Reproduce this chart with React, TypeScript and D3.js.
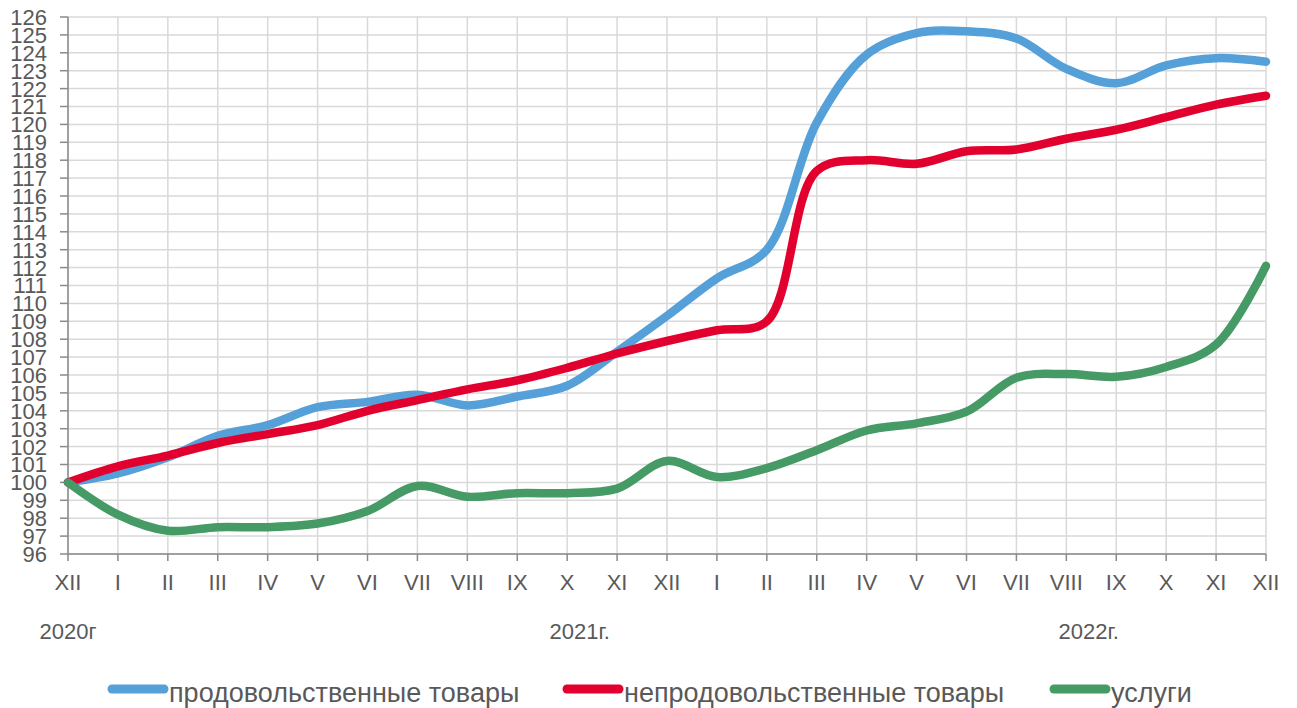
import React from "react";
import * as d3 from "d3";

const months = ["XII", "I", "II", "III", "IV", "V", "VI", "VII", "VIII", "IX", "X", "XI", "XII",
  "I", "II", "III", "IV", "V", "VI", "VII", "VIII", "IX", "X", "XI", "XII"];

const food = [100, 100.5, 101.4, 102.6, 103.2, 104.2, 104.5, 104.9, 104.3, 104.8, 105.4, 107.3, 109.3,
  111.4, 113.0, 120.1, 123.9, 125.1, 125.2, 124.8, 123.1, 122.3, 123.3, 123.7, 123.5];
const nonfood = [100, 100.9, 101.5, 102.2, 102.7, 103.2, 104.0, 104.6, 105.2, 105.7, 106.4, 107.2, 107.9,
  108.5, 109.0, 117.4, 118.0, 117.8, 118.5, 118.6, 119.2, 119.7, 120.4, 121.1, 121.6];
const services = [100, 98.2, 97.3, 97.5, 97.5, 97.7, 98.4, 99.8, 99.2, 99.4, 99.4, 99.65, 101.2,
  100.3, 100.8, 101.8, 102.9, 103.3, 103.95, 105.85, 106.05, 105.9, 106.45, 107.7, 112.1];

const seriesNames = ["продовольственные товары", "непродовольственные товары", "услуги"];
const seriesColors = ["#55a0d8", "#e1002e", "#469a66"];

// year captions, placed at (fractional) month index
const years = ["2020г", "2021г.", "2022г."];
const yearPos = [0, 10.25, 20.45];

const yTicks = d3.range(96, 127, 1);

const font = "'Liberation Sans', Arial, sans-serif";
const textColor = "#595959";

export default function App() {
  const W = 1297;
  const H = 708;
  const left = 68;
  const right = 1266;
  const top = 17;
  const bottom = 554;

  const x = d3.scaleLinear().domain([0, months.length - 1]).range([left, right]);
  const y = d3.scaleLinear().domain([96, 126]).range([bottom, top]);

  const line = d3
    .line<number>()
    .x((d, i) => x(i))
    .y(d => y(d))
    .curve(d3.curveCatmullRom.alpha(0.5));

  const all = [food, nonfood, services];
  const legendX = [108, 563, 1050];

  return (
    <svg width={W} height={H} style={{ position: "absolute", left: 0, top: 0, background: "#fff" }}>
      {/* grid */}
      <g stroke="#d9d9d9" strokeWidth={1.5}>
        {yTicks.map(t => (
          <line key={"gy" + t} x1={left} x2={right} y1={y(t)} y2={y(t)} />
        ))}
        {months.map((m, i) => (
          <line key={"gx" + i} x1={x(i)} x2={x(i)} y1={top} y2={bottom} />
        ))}
      </g>

      {/* axes */}
      <g stroke="#8a8a8a" strokeWidth={1.5}>
        <line x1={left} x2={left} y1={top} y2={bottom} />
        <line x1={left} x2={right} y1={bottom} y2={bottom} />
        {yTicks.map(t => (
          <line key={"ty" + t} x1={left - 8} x2={left} y1={y(t)} y2={y(t)} />
        ))}
        {months.map((m, i) => (
          <line key={"tx" + i} x1={x(i)} x2={x(i)} y1={bottom} y2={bottom + 7} />
        ))}
      </g>

      <g fontFamily={font} fontSize={22} fill={textColor}>
        {yTicks.map(t => (
          <text key={"ly" + t} x={47} y={y(t)} dy="0.36em" textAnchor="end">{t}</text>
        ))}
        {months.map((m, i) => (
          <text key={"lx" + i} x={x(i)} y={590} textAnchor="middle">{m}</text>
        ))}
        {years.map((s, i) => (
          <text key={"yr" + i} x={x(yearPos[i])} y={639} textAnchor="middle">{s}</text>
        ))}
      </g>

      {/* series */}
      {all.map((d, i) => (
        <path key={"s" + i} d={line(d) || ""} fill="none" stroke={seriesColors[i]}
          strokeWidth={8.5} strokeLinecap="round" strokeLinejoin="round" />
      ))}

      {/* legend */}
      <g fontFamily={font} fontSize={27} fill={textColor}>
        {seriesNames.map((n, i) => (
          <g key={"lg" + i}>
            <line x1={legendX[i] + 4} x2={legendX[i] + 56} y1={689} y2={689}
              stroke={seriesColors[i]} strokeWidth={9} strokeLinecap="round" />
            <text x={legendX[i] + 61} y={702}>{n}</text>
          </g>
        ))}
      </g>
    </svg>
  );
}
